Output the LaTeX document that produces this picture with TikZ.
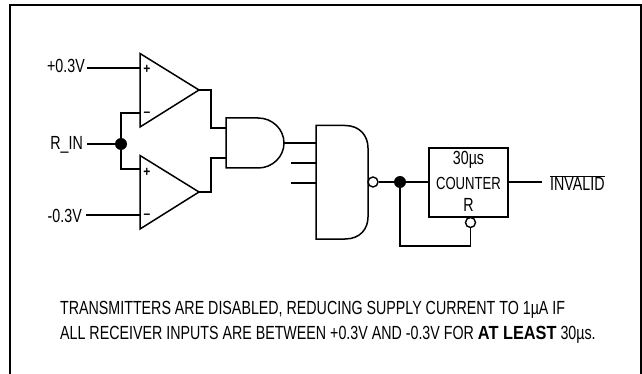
\documentclass[tikz,border=0pt]{standalone}
\usepackage{fontspec}
\setmainfont[FakeStretch=0.75, BoldFeatures={FakeStretch=0.86}]{Liberation Sans}
\tikzset{
  wire/.style={line width=1.5pt},
  dot/.style={circle, fill=black, inner sep=0pt, minimum size=12pt},
  bubble/.style={circle, draw, fill=white, line width=1.4pt, inner sep=0pt, minimum size=10pt},
  lbl/.style={inner sep=0pt, font=\fontsize{19}{24}\selectfont},
  sign/.style={inner sep=0pt, font=\fontsize{14}{14}\selectfont\bfseries},
}
\begin{document}
\begin{tikzpicture}[x=1pt, y=-1pt]
\useasboundingbox (0,0) rectangle (642,374);
% frame
\draw[line width=2pt] (9.5,374) -- (9.5,5.5) -- (640.5,5.5) -- (640.5,374);
% comparators
\draw[wire] (140,53.5) coordinate (uppertl) -- (199,90) coordinate (upperout) -- (140,127) -- cycle;
\draw[wire] (140,155.5) coordinate (lowertl) -- (199,192) coordinate (lowerout) -- (140,229) -- cycle;
\node[sign] at (147,69) {+};
\node[sign] at (147,114) {–};
\node[sign] at (147,172) {+};
\node[sign] at (147,216) {–};
\coordinate (upperp) at (140,68);
\coordinate (upperm) at (140,113);
\coordinate (lowerp) at (140,169);
\coordinate (lowerm) at (140,215);
% inputs
\node[lbl, anchor=east] (plus) at (85,66) {+0.3V};
\node[lbl, anchor=east] (rin) at (83,145) {R\_IN};
\node[lbl, anchor=east] (minus) at (82,216) {-0.3V};
\node[dot] (rdot) at (121,144) {};
\draw[wire] (plus.east |- upperp) ++(2,0) -- (upperp);
\draw[wire] (87,144) -- (rdot);
\draw[wire] (upperm) -| (rdot) |- (lowerp);
\draw[wire] (minus.east |- lowerm) ++(4,0) -- (lowerm);
% and gate
\draw[wire] (226,118) -- (258,118) arc[start angle=-90, end angle=90, x radius=26, y radius=25] -- (226,168) -- cycle;
\coordinate (anda) at (226,128);
\coordinate (andb) at (226,158);
\coordinate (andout) at (284,143);
\draw[wire] (upperout) -- (211,90) |- (anda);
\draw[wire] (lowerout) -- (211,192) |- (andb);
% big gate
\draw[wire] (316,125.5) -- (345,125.5) .. controls (360,125.5) and (368,136) .. (368,148) -- (368,217) .. controls (368,229) and (360,239) .. (345,239) -- (316,239) -- cycle;
\draw[wire] (andout) -- (316,143);
\draw[wire] (291,163) -- (316,163);
\draw[wire] (291,183) -- (316,183);
% counter
\node[draw, wire, minimum width=79pt, minimum height=69pt, inner sep=0pt] (counter) at (468.5,182.5) {};
\node[lbl] (time) at (468.5,160) {30µs};
\node[lbl, font=\fontsize{17.5}{24}\selectfont] (cname) at (468.5,183) {COUNTER};
\node[lbl] (rpin) at (468.5,205) {R};
\node[bubble] (nout) at (373,182) {};
\node[bubble] (nreset) at (470.5,222.5) {};
\node[dot] (fdot) at (400,182) {};
\draw[wire] (nout) -- (fdot) -- (counter.west |- fdot);
\draw[wire] (fdot) |- (470.5,246) -- (nreset);
% output
\node[lbl, anchor=west] (invalid) at (550,183) {$\overline{\mbox{INVALID}}$};
\draw[wire] (counter.east |- fdot) -- (542,182);
% note
\node[lbl, anchor=west] (note1) at (60,310) {TRANSMITTERS ARE DISABLED, REDUCING SUPPLY CURRENT TO 1µA IF};
\node[lbl, anchor=west] (note2) at (60,335) {ALL RECEIVER INPUTS ARE BETWEEN +0.3V AND -0.3V FOR \textbf{AT LEAST} 30µs.};
\end{tikzpicture}
\end{document}
